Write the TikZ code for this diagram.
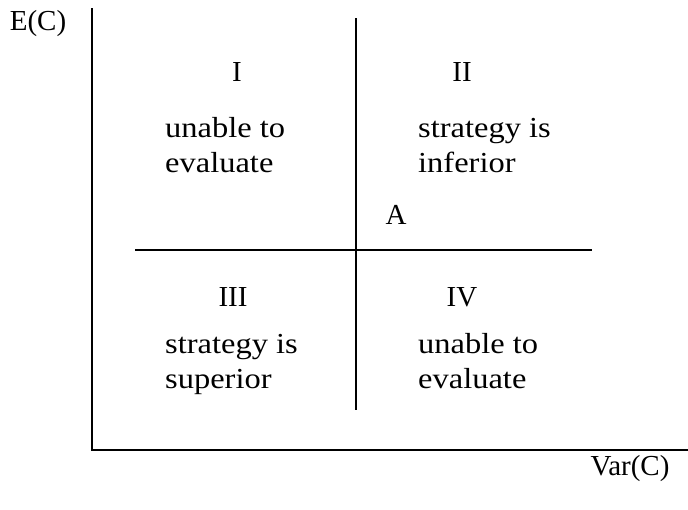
\documentclass[tikz,border=0pt]{standalone}
\usepackage{fontspec}
\setmainfont{Liberation Serif}
\newfontfamily\widefont{Liberation Serif}[FakeStretch=1.12]
\begin{document}
\begin{tikzpicture}[x=1pt,y=-1pt,
  lbl/.style={inner sep=0pt,font=\fontsize{29}{35}\selectfont},
  ln/.style={inner sep=0pt,anchor=base west,font=\widefont\fontsize{29}{35}\selectfont},
  axis/.style={line width=2pt},
  divider/.style={line width=1.6pt}]
\useasboundingbox (0,0) rectangle (688,509);
\coordinate (top) at (92,8);
\coordinate (origin) at (92,450);
\coordinate (right) at (688,450);
\draw[axis] (top) -- (origin) -- (right);
\coordinate (vt) at (356,18);
\coordinate (vb) at (356,410);
\coordinate (hl) at (135,250);
\coordinate (hr) at (592,250);
\draw[divider] (vt) -- (vb);
\draw[divider] (hl) -- (hr);
\node[lbl] (ey) at (38,24) {E(C)};
\node[lbl] (vx) at (630,469) {Var(C)};
\node[lbl] (q1) at (237,72) {I};
\node[lbl] (q2) at (462,72) {II};
\node[lbl] (q3) at (233,297) {III};
\node[lbl] (q4) at (462,297) {IV};
\node[lbl] (a) at (396,215) {A};
\node[ln] (t1a) at (165,137) {unable to};
\node[ln] (t1b) at (165,172) {evaluate};
\node[ln] (t2a) at (418,137) {strategy is};
\node[ln] (t2b) at (418,172) {inferior};
\node[ln] (t3a) at (165,353) {strategy is};
\node[ln] (t3b) at (165,388) {superior};
\node[ln] (t4a) at (418,353) {unable to};
\node[ln] (t4b) at (418,388) {evaluate};
\end{tikzpicture}
\end{document}
